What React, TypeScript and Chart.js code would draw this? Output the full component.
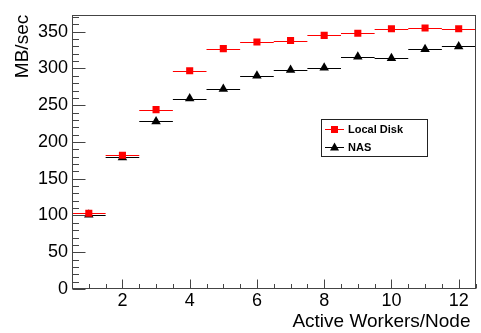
import React, { useEffect, useRef } from "react";
import { Chart, registerables } from "chart.js";

Chart.register(...registerables);

// ---- data ----
const workers = [1, 2, 3, 4, 5, 6, 7, 8, 9, 10, 11, 12];
const localDisk = [103, 182, 244, 297, 327, 336, 338, 345, 348, 354, 355, 354];
const nas = [101, 179, 228, 259, 272, 290, 298, 301, 316, 314, 326, 330];
const xErr = [0.5, 0.5, 0.5, 0.5, 0.5, 0.5, 0.5, 0.5, 0.5, 0.5, 0.5, 0.5];
const xTickValues = [2, 4, 6, 8, 10, 12];
const yTickValues = [0, 50, 100, 150, 200, 250, 300, 350];
const seriesLabels = ["Local Disk", "NAS"];
const xTitle = "Active Workers/Node";
const yTitle = "MB/sec";

const FONT = "'Liberation Sans', Arial, Helvetica, sans-serif";
const FRAME = "#444";

const rootPlugin = {
  id: "rootStyle",
  beforeDatasetsDraw(chart: any) {
    const ctx = chart.ctx;
    const xs = chart.scales.x;
    const ys = chart.scales.y;
    chart.data.datasets.forEach((ds: any) => {
      ctx.save();
      ctx.strokeStyle = ds.borderColor;
      ctx.lineWidth = 1;
      ds.data.forEach((p: any, j: number) => {
        const e = xErr[j];
        const y = Math.round(ys.getPixelForValue(p.y)) + 0.5;
        ctx.beginPath();
        ctx.moveTo(xs.getPixelForValue(p.x - e), y);
        ctx.lineTo(xs.getPixelForValue(p.x + e), y);
        ctx.stroke();
      });
      ctx.restore();
    });
  },
  afterDraw(chart: any) {
    const ctx = chart.ctx;
    const a = chart.chartArea;
    const xs = chart.scales.x;
    const ys = chart.scales.y;
    ctx.save();
    ctx.strokeStyle = FRAME;
    ctx.lineWidth = 1;
    const L = Math.round(a.left) + 0.5;
    const R = Math.round(a.right) - 0.5;
    const T = Math.round(a.top) + 0.5;
    const B = Math.round(a.bottom) - 0.5;
    ctx.strokeRect(L, T, R - L, B - T);
    // y ticks
    ctx.beginPath();
    for (let v = 0; v <= ys.max + 1e-6; v += 10) {
      const y = Math.round(ys.getPixelForValue(v)) + 0.5;
      const major = Math.abs(v % 50) < 1e-6;
      ctx.moveTo(L, y);
      ctx.lineTo(L + (major ? 13 : 6.5), y);
    }
    // x ticks
    for (let v = 0.5; v <= xs.max + 1e-6; v += 0.5) {
      const x = Math.round(xs.getPixelForValue(v)) + 0.5;
      const major = Math.abs(v % 2) < 1e-6;
      ctx.moveTo(x, B);
      ctx.lineTo(x, B - (major ? 9 : 4.5));
    }
    ctx.stroke();

    // x title (right aligned like ROOT)
    ctx.fillStyle = "#000";
    ctx.font = `19px ${FONT}`;
    ctx.textAlign = "right";
    ctx.textBaseline = "middle";
    ctx.fillText(xTitle, a.right - 5, 322);

    // legend
    const bx = 321.5, by = 119.5, bw = 106, bh = 37;
    ctx.fillStyle = "#fff";
    ctx.fillRect(bx, by, bw, bh);
    ctx.strokeStyle = "#222";
    ctx.strokeRect(bx, by, bw, bh);
    const rows = [129, 147];
    chart.data.datasets.forEach((ds: any, i: number) => {
      const y = rows[i];
      ctx.strokeStyle = ds.borderColor;
      ctx.lineWidth = 1;
      ctx.beginPath();
      ctx.moveTo(325, y + 0.5);
      ctx.lineTo(344, y + 0.5);
      ctx.stroke();
      ctx.fillStyle = ds.backgroundColor;
      const cx = 334.5;
      if (ds.pointStyle === "rect") {
        ctx.fillRect(cx - 3.5, y - 3, 7, 7);
      } else {
        ctx.beginPath();
        ctx.moveTo(cx, y - 4.5);
        ctx.lineTo(cx + 4.5, y + 3.5);
        ctx.lineTo(cx - 4.5, y + 3.5);
        ctx.closePath();
        ctx.fill();
      }
      ctx.fillStyle = "#000";
      ctx.font = `bold 11px ${FONT}`;
      ctx.textBaseline = "middle";
      ctx.textAlign = "left";
      ctx.fillText(ds.label, 348, y + 0.5);
    });
    ctx.restore();
  },
};

export default function App() {
  const ref = useRef<HTMLCanvasElement | null>(null);
  useEffect(() => {
    document.body.style.margin = "0";
    const canvas = ref.current;
    if (!canvas) return;
    const chart = new Chart(canvas, {
      type: "scatter",
      data: {
        datasets: [
          {
            label: seriesLabels[0],
            data: workers.map((x, i) => ({ x, y: localDisk[i] })),
            pointStyle: "rect",
            pointRadius: 5,
            pointBorderWidth: 0,
            backgroundColor: "#ff0000",
            borderColor: "#ff0000",
            showLine: false,
          },
          {
            label: seriesLabels[1],
            data: workers.map((x, i) => ({ x, y: nas[i] })),
            pointStyle: "triangle",
            pointRadius: 5.5,
            pointBorderWidth: 0,
            backgroundColor: "#000000",
            borderColor: "#000000",
            showLine: false,
          },
        ],
      },
      options: {
        animation: false,
        responsive: false,
        devicePixelRatio: 1,
        layout: { padding: { left: 0, top: 13, right: 1, bottom: 0 } },
        plugins: { legend: { display: false }, tooltip: { enabled: false } },
        scales: {
          x: {
            type: "linear",
            min: 0.5,
            max: 12.5,
            grid: { display: false, drawTicks: false },
            border: { display: false },
            afterBuildTicks: (s: any) => {
              s.ticks = xTickValues.map((v) => ({ value: v }));
            },
            ticks: {
              padding: 1,
              color: "#000",
              font: { family: FONT, size: 18 },
              maxRotation: 0,
              autoSkip: false,
            },
            title: { display: false, text: xTitle },
            afterFit: (s: any) => {
              s.height = 44;
            },
          },
          y: {
            type: "linear",
            min: 0,
            max: 373,
            grid: { display: false, drawTicks: false },
            border: { display: false },
            afterBuildTicks: (s: any) => {
              s.ticks = yTickValues.map((v) => ({ value: v }));
            },
            ticks: {
              padding: 4,
              color: "#000",
              font: { family: FONT, size: 18 },
              autoSkip: false,
            },
            title: {
              display: true,
              text: yTitle,
              align: "end",
              color: "#000",
              font: { family: FONT, size: 19 },
              padding: { top: 11, bottom: 0 },
            },
            afterFit: (s: any) => {
              s.width = 72;
            },
          },
        },
      },
      plugins: [rootPlugin],
    });
    return () => chart.destroy();
  }, []);
  return <canvas ref={ref} width={481} height={333} style={{ display: "block" }} />;
}
